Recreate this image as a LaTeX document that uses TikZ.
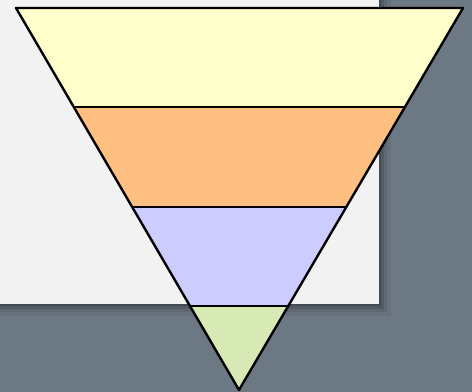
\documentclass[tikz,border=0pt]{standalone}
\usetikzlibrary{calc}
\definecolor{slate}{HTML}{6C7883}
\definecolor{paper}{HTML}{F2F2F2}
\definecolor{bandA}{HTML}{FFFFCC}
\definecolor{bandB}{HTML}{FFBF80}
\definecolor{bandC}{HTML}{CCCCFF}
\definecolor{bandD}{HTML}{D7E9B4}
\begin{document}
\begin{tikzpicture}[x=0.5mm,y=-0.5mm,line join=round]
	% backdrop and sheet with a soft shadow
	\fill[slate] (0,0) rectangle (472,392);
	\useasboundingbox (0,0) rectangle (472,392);
	\foreach \d/\o in {12/0.05,8/0.08,5/0.12,2/0.18}
		\fill[black,opacity=\o] (0,0) rectangle (379+\d,304+\d);
	\fill[paper] (0,0) rectangle (379,304);
	% funnel
	\coordinate (tl) at (16,8);
	\coordinate (tr) at (463,8);
	\coordinate (tip) at (239,390);
	\coordinate (l1) at ($(tl)!0.259!(tip)$);
	\coordinate (r1) at ($(tr)!0.259!(tip)$);
	\coordinate (l2) at ($(tl)!0.521!(tip)$);
	\coordinate (r2) at ($(tr)!0.521!(tip)$);
	\coordinate (l3) at ($(tl)!0.780!(tip)$);
	\coordinate (r3) at ($(tr)!0.780!(tip)$);
	\fill[bandA] (tl)--(tr)--(r1)--(l1)--cycle;
	\fill[bandB] (l1)--(r1)--(r2)--(l2)--cycle;
	\fill[bandC] (l2)--(r2)--(r3)--(l3)--cycle;
	\fill[bandD] (l3)--(r3)--(tip)--cycle;
	\draw[line width=2.8pt] (l1)--(r1) (l2)--(r2) (l3)--(r3);
	\draw[line width=3.4pt] (tl)--(tr)--(tip)--cycle;
\end{tikzpicture}
\end{document}
